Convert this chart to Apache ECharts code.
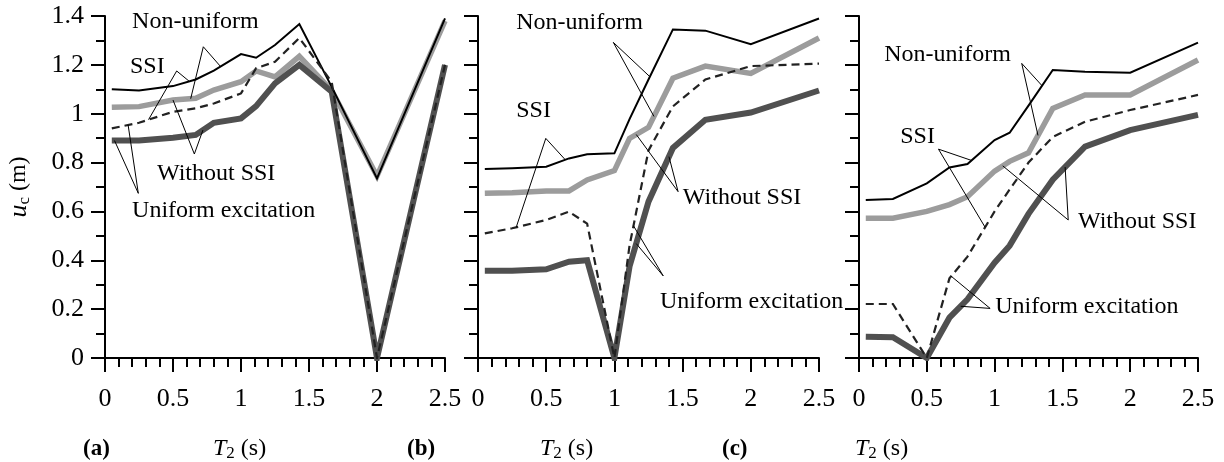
<!DOCTYPE html>
<html>
<head>
<meta charset="utf-8">
<script src="https://cdn.jsdelivr.net/npm/echarts@6/dist/echarts.min.js"></script>
<style>
  html, body { margin: 0; padding: 0; background: #ffffff; }
  #chart { width: 1224px; height: 462px; }
</style>
</head>
<body>
<div id="chart"></div>
<script>
// Period of the second structure, T2 (s)
const periods = [0.05, 0.25, 0.5, 0.667, 0.8, 1.0, 1.111, 1.25, 1.429, 1.667, 2.0, 2.5];

// Peak displacement u_c (m), panel (a)
const a_nonUniformSSI   = [1.100, 1.095, 1.113, 1.140, 1.176, 1.244, 1.229, 1.281, 1.367, 1.110, 0.735, 1.390];
const a_nonUniformFixed = [1.026, 1.029, 1.056, 1.063, 1.097, 1.131, 1.175, 1.151, 1.235, 1.095, 0.745, 1.380];
const a_uniformSSI      = [0.940, 0.963, 1.008, 1.022, 1.042, 1.083, 1.186, 1.213, 1.310, 1.130, 0.000, 1.200];
const a_uniformFixed    = [0.890, 0.890, 0.902, 0.913, 0.963, 0.981, 1.031, 1.124, 1.200, 1.090, 0.000, 1.200];

// Panel (b)
const b_nonUniformSSI   = [0.774, 0.777, 0.783, 0.817, 0.834, 0.838, 0.978, 1.140, 1.345, 1.340, 1.285, 1.390];
const b_nonUniformFixed = [0.674, 0.676, 0.684, 0.684, 0.729, 0.767, 0.899, 0.944, 1.145, 1.195, 1.165, 1.310];
const b_uniformSSI      = [0.510, 0.531, 0.565, 0.599, 0.550, 0.000, 0.460, 0.850, 1.030, 1.140, 1.195, 1.205];
const b_uniformFixed    = [0.357, 0.357, 0.363, 0.394, 0.400, 0.000, 0.375, 0.640, 0.860, 0.975, 1.005, 1.095];

// Panel (c)
const c_nonUniformSSI   = [0.647, 0.651, 0.715, 0.780, 0.794, 0.892, 0.922, 1.033, 1.179, 1.172, 1.168, 1.291];
const c_nonUniformFixed = [0.572, 0.572, 0.600, 0.628, 0.660, 0.765, 0.805, 0.840, 1.022, 1.077, 1.077, 1.220];
const c_uniformSSI      = [0.221, 0.221, 0.000, 0.326, 0.415, 0.600, 0.690, 0.800, 0.905, 0.967, 1.015, 1.077];
const c_uniformFixed    = [0.087, 0.085, 0.000, 0.165, 0.240, 0.390, 0.460, 0.590, 0.730, 0.865, 0.933, 0.995];

// Axis ranges and tick steps
const xRange = [0, 2.5], xStep = 0.5;
const yRange = [0, 1.4], yStep = 0.2;

// Panel captions
const panelTags = ['(a)', '(b)', '(c)'];

const panelData = [
  { nonUniformFixed: a_nonUniformFixed, uniformFixed: a_uniformFixed, nonUniformSSI: a_nonUniformSSI, uniformSSI: a_uniformSSI },
  { nonUniformFixed: b_nonUniformFixed, uniformFixed: b_uniformFixed, nonUniformSSI: b_nonUniformSSI, uniformSSI: b_uniformSSI },
  { nonUniformFixed: c_nonUniformFixed, uniformFixed: c_uniformFixed, nonUniformSSI: c_nonUniformSSI, uniformSSI: c_uniformSSI }
];

// Line styles, in drawing order
const curveStyles = [
  { key: 'nonUniformFixed', color: '#9c9c9c', width: 5.5, type: 'solid' },
  { key: 'uniformFixed',    color: '#505050', width: 6,   type: 'solid' },
  { key: 'nonUniformSSI',   color: '#000000', width: 2,   type: 'solid' },
  { key: 'uniformSSI',      color: '#222222', width: 2.2, type: [8, 5] }
];

const SERIF = '"Liberation Serif", "Times New Roman", serif';

const grids = [
  { left: 105, width: 340, top: 16, height: 342 },
  { left: 478, width: 341, top: 16, height: 342 },
  { left: 859, width: 339, top: 16, height: 342 }
];

const axisLineStyle = { color: '#000', width: 2 };

const xAxes = grids.map((g, i) => ({
  type: 'value', gridIndex: i, min: xRange[0], max: xRange[1], interval: xStep,
  axisLine: { show: true, onZero: false, lineStyle: axisLineStyle },
  axisTick: { show: true, inside: false, length: 14, lineStyle: axisLineStyle },
  minorTick: { show: true, splitNumber: 5, length: 9, lineStyle: axisLineStyle },
  splitLine: { show: false }, minorSplitLine: { show: false },
  axisLabel: { show: true, color: '#000', fontFamily: SERIF, fontSize: 26, margin: 28 }
}));

const yAxes = grids.map((g, i) => ({
  type: 'value', gridIndex: i, min: yRange[0], max: yRange[1], interval: yStep,
  axisLine: { show: true, onZero: false, lineStyle: axisLineStyle },
  axisTick: { show: true, inside: false, length: 14, lineStyle: axisLineStyle },
  minorTick: { show: true, splitNumber: 2, length: 9, lineStyle: axisLineStyle },
  splitLine: { show: false }, minorSplitLine: { show: false },
  axisLabel: { show: i === 0, color: '#000', fontFamily: SERIF, fontSize: 26, margin: 21 },
  name: i === 0 ? '{u|u}{c|c}{r| (m)}' : '',
  nameLocation: 'middle', nameRotate: 90, nameGap: 72,
  nameTextStyle: {
    color: '#000', fontFamily: SERIF, fontSize: 24,
    rich: {
      u: { fontFamily: SERIF, fontSize: 26, fontStyle: 'italic', color: '#000', lineHeight: 28, verticalAlign: 'middle' },
      c: { fontFamily: SERIF, fontSize: 17, color: '#000', lineHeight: 8, verticalAlign: 'bottom' },
      r: { fontFamily: SERIF, fontSize: 24, color: '#000', lineHeight: 28, verticalAlign: 'middle' }
    }
  }
}));

const series = [];
panelData.forEach((pd, i) => {
  curveStyles.forEach(cs => {
    series.push({
      type: 'line', xAxisIndex: i, yAxisIndex: i,
      data: periods.map((t, k) => [t, pd[cs.key][k]]),
      symbol: 'none', smooth: false, silent: true,
      lineStyle: { color: cs.color, width: cs.width, type: cs.type, cap: 'butt', join: 'miter' },
      z: 2
    });
  });
});

const chart = echarts.init(document.getElementById('chart'), null, { renderer: 'canvas' });
chart.setOption({
  animation: false,
  backgroundColor: '#ffffff',
  grid: grids,
  xAxis: xAxes,
  yAxis: yAxes,
  series: series
});

// Leader-line annotations: text anchor and apex in data units, tips on a curve at a given period
const annotations = [
  { panel: 0, text: 'Non-uniform',        at: [0.199, 1.375], apex: [0.723, 1.274], tips: [['nonUniformFixed', 0.63], ['nonUniformSSI', 0.85]] },
  { panel: 0, text: 'SSI',                at: [0.184, 1.191], apex: [0.527, 1.175], tips: [['uniformSSI', 0.32], ['nonUniformSSI', 0.62]] },
  { panel: 0, text: 'Without SSI',        at: [0.382, 0.753], apex: [0.657, 0.835], tips: [['nonUniformFixed', 0.50], ['uniformFixed', 0.72]] },
  { panel: 0, text: 'Uniform excitation', at: [0.199, 0.602], apex: [0.245, 0.674], tips: [['uniformFixed', 0.07], ['uniformSSI', 0.17]] },
  { panel: 1, text: 'Non-uniform',        at: [0.280, 1.371], apex: [0.992, 1.292], tips: [['nonUniformSSI', 1.26], ['nonUniformFixed', 1.29]] },
  { panel: 1, text: 'SSI',                at: [0.280, 1.011], apex: [0.497, 0.899], tips: [['uniformSSI', 0.28], ['nonUniformSSI', 0.64]] },
  { panel: 1, text: 'Without SSI',        at: [1.502, 0.655], apex: [1.467, 0.681], tips: [['nonUniformFixed', 1.16], ['uniformFixed', 1.40]] },
  { panel: 1, text: 'Uniform excitation', at: [1.334, 0.229], apex: [1.358, 0.336], tips: [['uniformSSI', 1.14], ['uniformFixed', 1.16]] },
  { panel: 2, text: 'Non-uniform',        at: [0.186, 1.240], apex: [1.200, 1.206], tips: [['nonUniformSSI', 1.35], ['nonUniformFixed', 1.32]] },
  { panel: 2, text: 'SSI',                at: [0.304, 0.905], apex: [0.586, 0.855], tips: [['nonUniformSSI', 0.83], ['uniformSSI', 0.93]] },
  { panel: 2, text: 'Without SSI',        at: [1.615, 0.557], apex: [1.543, 0.565], tips: [['nonUniformFixed', 1.06], ['uniformFixed', 1.52]] },
  { panel: 2, text: 'Uniform excitation', at: [1.004, 0.209], apex: [0.967, 0.203], tips: [['uniformSSI', 0.68], ['uniformFixed', 0.75]] }
];

// Linear interpolation along a curve
function valueAt(values, t) {
  for (let k = 0; k < periods.length - 1; k++) {
    if (t >= periods[k] && t <= periods[k + 1]) {
      const f = (t - periods[k]) / (periods[k + 1] - periods[k]);
      return values[k] + f * (values[k + 1] - values[k]);
    }
  }
  return t < periods[0] ? values[0] : values[values.length - 1];
}

const graphics = [];
annotations.forEach(an => {
  const toPx = p => chart.convertToPixel({ gridIndex: an.panel }, p);
  const apex = toPx(an.apex);
  const tipPts = an.tips.map(([key, t]) => toPx([t, valueAt(panelData[an.panel][key], t)]));
  graphics.push({
    type: 'polyline', silent: true, z: 10,
    shape: { points: [tipPts[0], apex, tipPts[1]] },
    style: { stroke: '#000', lineWidth: 1, fill: null }
  });
  const pos = toPx(an.at);
  graphics.push({
    type: 'text', silent: true, z: 11, x: pos[0], y: pos[1],
    style: {
      text: an.text, fill: '#000', font: '24px ' + SERIF,
      textAlign: 'left', textVerticalAlign: 'middle'
    }
  });
});

// Panel captions and x-axis titles
const captionX = [83, 407, 722];
const titleX = [213, 540, 855];
panelTags.forEach((tag, i) => {
  graphics.push({
    type: 'text', silent: true, x: captionX[i], y: 449,
    style: { text: tag, fill: '#000', font: 'bold 23px ' + SERIF, textAlign: 'left', textVerticalAlign: 'middle' }
  });
  graphics.push({
    type: 'text', silent: true, x: titleX[i], y: 449,
    style: {
      text: '{t|T}{s|2}{r| (s)}', fill: '#000', textAlign: 'left', textVerticalAlign: 'middle',
      rich: {
        t: { fontFamily: SERIF, fontSize: 24, fontStyle: 'italic', fill: '#000', lineHeight: 26, verticalAlign: 'middle' },
        s: { fontFamily: SERIF, fontSize: 17, fill: '#000', lineHeight: 8, verticalAlign: 'bottom' },
        r: { fontFamily: SERIF, fontSize: 24, fill: '#000', lineHeight: 26, verticalAlign: 'middle' }
      }
    }
  });
});

chart.setOption({ graphic: graphics });
</script>
</body>
</html>
